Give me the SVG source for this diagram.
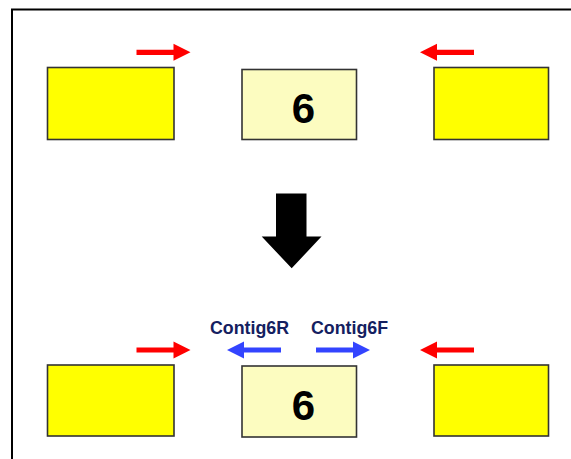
<svg xmlns="http://www.w3.org/2000/svg" width="571" height="459" viewBox="0 0 571 459">
  <style>
    .contig { fill: #FFFF00; stroke: #333333; stroke-width: 1.6; }
    .core { fill: #FCFCC0; stroke: #333333; stroke-width: 1.6; }
    .num { font-family: "Liberation Sans", Arial, sans-serif; font-weight: bold; font-size: 42px; fill: #000000; text-anchor: middle; }
    .lbl { font-family: "Liberation Sans", Arial, sans-serif; font-weight: bold; font-size: 17.8px; fill: #142060; }
    .red { fill: #FF0000; }
    .blue { fill: #3344FF; }
  </style>
  <defs>
    <!-- right-pointing arrow, 54 long, tip at local x=54 -->
    <path id="arrowR" d="M0,-2.6 H37 V-8.5 L54,0 L37,8.5 V2.6 H0 Z"/>
    <path id="arrowL" d="M54,-2.6 H17 V-8.5 L0,0 L17,8.5 V2.6 H54 Z"/>
  </defs>

  <rect width="571" height="459" fill="#FFFFFF"/>
  <!-- frame (open to right and bottom) -->
  <path d="M12,459 V9.5 H571" fill="none" stroke="#000000" stroke-width="2"/>

  <!-- top row -->
  <g id="top-left"><rect class="contig" x="47.5" y="67.5" width="126.5" height="72"/></g>
  <g id="top-center"><rect class="core" x="242" y="69.5" width="114.5" height="70"/><text class="num" x="303.5" y="123">6</text></g>
  <g id="top-right"><rect class="contig" x="434" y="67.5" width="114.5" height="72"/></g>

  <!-- bottom row -->
  <g id="bottom-left"><rect class="contig" x="47.5" y="365" width="126.5" height="71"/></g>
  <g id="bottom-center"><rect class="core" x="242" y="366" width="114.5" height="71"/><text class="num" x="303.5" y="420">6</text></g>
  <g id="bottom-right"><rect class="contig" x="434" y="365" width="114.5" height="71"/></g>

  <g id="labels">
    <text class="lbl" x="210" y="334">Contig6R</text>
    <text class="lbl" x="311" y="334">Contig6F</text>
  </g>

  <g id="connectors">
    <use href="#arrowR" class="red" x="136.5" y="52.3"/>
    <use href="#arrowL" class="red" x="420" y="52.3"/>
    <use href="#arrowR" class="red" x="136.5" y="350"/>
    <use href="#arrowL" class="red" x="420" y="350"/>
    <use href="#arrowL" class="blue" x="227" y="350"/>
    <use href="#arrowR" class="blue" x="316" y="350"/>
    <!-- transition arrow -->
    <path d="M276,193.5 H306.5 V236.5 H321.5 L291.7,268.3 L261.7,236.5 H276 Z" fill="#000000"/>
  </g>
</svg>
